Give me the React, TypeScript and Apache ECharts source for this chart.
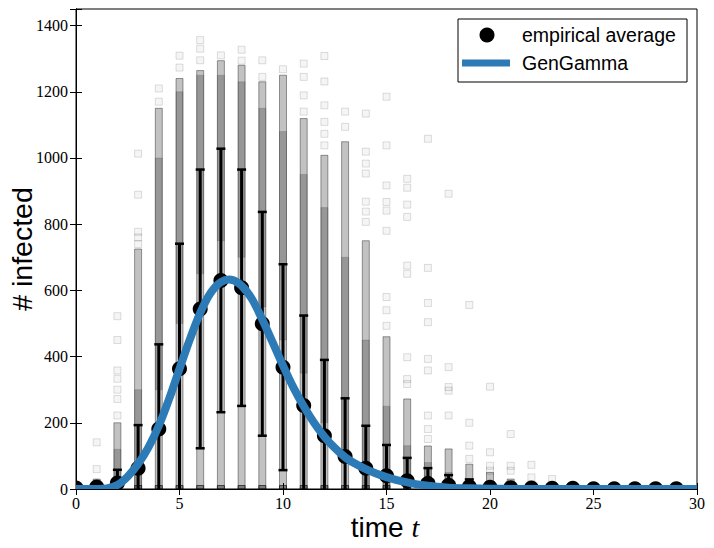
import React, { useEffect, useRef } from "react";
import * as echarts from "echarts";

const TIMES = [0, 1, 2, 3, 4, 5, 6, 7, 8, 9, 10, 11, 12, 13, 14, 15, 16, 17, 18, 19, 20, 21, 22, 23, 24, 25, 26, 27, 28, 29];
const MEAN_INFECTED = [3, 6, 18, 63, 181, 363, 544, 630, 608, 499, 368, 252, 161, 98, 63, 40, 25, 17, 11, 7, 5, 4, 3, 2, 2, 1, 1, 1, 1, 1];
const STD_INFECTED = [4, 8, 40, 130, 256, 378, 421, 398, 357, 338, 311, 272, 229, 176, 128, 93, 69, 46, 31, 22, 15, 10, 7, 5, 3, 2, 2, 1, 1, 1];

const FIT_T = [0, 0.5, 1, 1.5, 2, 2.5, 3, 3.5, 4, 4.5, 5, 5.5, 6, 6.5, 7, 7.5, 8, 8.5, 9, 9.5, 10, 10.5, 11, 11.5, 12, 12.5, 13, 13.5, 14, 14.5, 15, 15.5, 16, 16.5, 17, 17.5, 18, 19, 20, 21, 22, 23, 24, 25, 26, 27, 28, 29, 30];
const FIT_Y = [0, 0, 0, 2, 12, 38, 76, 126, 191, 272, 363, 452, 532, 592, 625, 632, 614, 574, 512, 443, 373, 307, 250, 200, 158, 124, 96, 76, 60, 47, 36, 27, 20, 14, 10, 7, 4, 2, 1, 0, 0, 0, 0, 0, 0, 0, 0, 0, 0];

// extent of the continuous band of simulated runs at each time
const RUN_BAND_TOP = [8, 30, 200, 725, 1150, 1240, 1264, 1294, 1280, 1230, 1250, 1119, 1008, 1049, 750, 460, 272, 130, 121, 75, 50, 30, 20, 10, 0, 0, 0, 0, 0, 0];
// denser part of the runs
const RUN_CORE_LOW = [0, 0, 0, 0, 300, 500, 650, 750, 700, 550, 450, 350, 200, 100, 0, 0, 0, 0, 0, 0, 0, 0, 0, 0, 0, 0, 0, 0, 0, 0];
const RUN_CORE_HIGH = [0, 10, 120, 300, 1000, 1200, 1250, 1250, 1230, 1150, 1080, 950, 850, 700, 450, 250, 131, 80, 50, 30, 0, 0, 0, 0, 0, 0, 0, 0, 0, 0];
// isolated simulated runs
const RUN_OUTLIERS: [number, number][] = [
  [1, 141], [1, 60],
  [2, 522], [2, 450], [2, 358], [2, 333], [2, 300], [2, 272], [2, 222],
  [3, 1013], [3, 889], [3, 777], [3, 760], [3, 740],
  [4, 1210], [4, 1170],
  [5, 1309], [5, 1273],
  [6, 1356], [6, 1330], [6, 1295],
  [7, 1310],
  [8, 1327], [8, 1294],
  [9, 1295], [9, 1245],
  [10, 1268],
  [11, 1285], [11, 1245], [11, 1189], [11, 1140],
  [12, 1308], [12, 1231], [12, 1159], [12, 1109], [12, 1073], [12, 1038],
  [13, 1140], [13, 1094],
  [14, 1134], [14, 1019], [14, 983], [14, 953], [14, 868], [14, 838], [14, 807],
  [15, 1185], [15, 1038], [15, 917], [15, 867], [15, 841], [15, 780], [15, 580], [15, 540], [15, 493],
  [16, 937], [16, 910], [16, 859], [16, 822], [16, 675], [16, 650], [16, 398], [16, 332], [16, 317],
  [17, 1058], [17, 668], [17, 562], [17, 504], [17, 393], [17, 358], [17, 222], [17, 181], [17, 151],
  [18, 892], [18, 368], [18, 308], [18, 297], [18, 222],
  [19, 556], [19, 200], [19, 131], [19, 91],
  [20, 309], [20, 111], [20, 70], [20, 55],
  [21, 166], [21, 70], [21, 55],
  [22, 73], [22, 35],
  [23, 30],
];

const BLUE = "#2c7bb6";
const SERIF = "Liberation Serif";
const SANS = "Liberation Sans";

export default function App() {
  const ref = useRef<HTMLDivElement>(null);

  useEffect(() => {
    if (!ref.current) return;
    const chart = echarts.init(ref.current, undefined, { renderer: "svg" });

    const bandData = TIMES.map((t, i) => [t, 0, RUN_BAND_TOP[i]]).filter((d) => d[2] > 0);
    const coreData = TIMES.map((t, i) => [t, RUN_CORE_LOW[i], RUN_CORE_HIGH[i]]).filter((d) => d[2] > d[1]);
    const zeroRuns = TIMES.map((t) => [t, 0]).filter((d, i) => RUN_BAND_TOP[i] > 0);
    const errData = TIMES.map((t, i) => [t, MEAN_INFECTED[i] - STD_INFECTED[i], MEAN_INFECTED[i] + STD_INFECTED[i]]);
    const meanData = TIMES.map((t, i) => [t, MEAN_INFECTED[i]]);

    const rectItem = (fill: string, stroke: string) => (params: any, api: any) => {
      const lo = api.coord([api.value(0), api.value(1)]);
      const hi = api.coord([api.value(0), api.value(2)]);
      return {
        type: "rect",
        shape: { x: lo[0] - 3.5, y: hi[1], width: 7, height: Math.max(1, lo[1] - hi[1]) },
        style: { fill, stroke, lineWidth: 1 },
      };
    };

    const axisCommon = {
      axisLine: { show: true, lineStyle: { color: "#000", width: 1 } },
      axisTick: { show: true, inside: true, length: 6, lineStyle: { color: "#000", width: 1 } },
      splitLine: { show: false },
    };

    chart.setOption({
      animation: false,
      backgroundColor: "#fff",
      grid: { left: 76, right: 17, top: 9, bottom: 59, show: true, borderColor: "#000", borderWidth: 1, backgroundColor: "transparent" },
      xAxis: [
        {
          type: "value", min: 0, max: 30, interval: 5, position: "bottom",
          ...axisCommon,
          axisLabel: { show: true, color: "#000", fontFamily: SERIF, fontSize: 16, margin: 6 },
        },
        {
          type: "value", min: 0, max: 30, interval: 5, position: "top",
          ...axisCommon,
          axisLabel: { show: false },
        },
      ],
      yAxis: [
        {
          type: "value", min: 0, max: 1450, interval: 200, position: "left",
          ...axisCommon,
          axisLabel: {
            show: true, color: "#000", fontFamily: SERIF, fontSize: 16, margin: 8,
            formatter: (v: number) => (v % 200 === 0 ? String(v) : ""),
          },
        },
        {
          type: "value", min: 0, max: 1450, interval: 200, position: "right",
          ...axisCommon,
          axisLabel: { show: false },
        },
      ],
      series: [
        {
          type: "custom", name: "runs band", xAxisIndex: 0, yAxisIndex: 0, clip: true, z: 1,
          renderItem: rectItem("rgba(0,0,0,0.24)", "rgba(0,0,0,0.38)"),
          data: bandData,
        },
        {
          type: "custom", name: "runs core", xAxisIndex: 0, yAxisIndex: 0, clip: true, z: 1,
          renderItem: rectItem("rgba(0,0,0,0.22)", "rgba(0,0,0,0.12)"),
          data: coreData,
        },
        {
          type: "scatter", name: "runs", xAxisIndex: 0, yAxisIndex: 0, z: 1,
          symbol: "rect", symbolSize: 7,
          itemStyle: { color: "rgba(0,0,0,0.04)", borderColor: "rgba(0,0,0,0.13)", borderWidth: 1, opacity: 1 },
          data: RUN_OUTLIERS,
        },
        {
          type: "custom", name: "zero runs", xAxisIndex: 0, yAxisIndex: 0, clip: true, z: 1,
          renderItem: (params: any, api: any) => {
            const p = api.coord([api.value(0), api.value(1)]);
            return {
              type: "rect",
              shape: { x: p[0] - 3.5, y: p[1] - 3.5, width: 7, height: 7 },
              style: { fill: "rgba(0,0,0,0.35)", stroke: "rgba(0,0,0,0.6)", lineWidth: 1 },
            };
          },
          data: zeroRuns,
        },
        {
          type: "custom", name: "error", xAxisIndex: 0, yAxisIndex: 0, clip: true, z: 2,
          renderItem: (params: any, api: any) => {
            const lo = api.coord([api.value(0), api.value(1)]);
            const hi = api.coord([api.value(0), api.value(2)]);
            const children: any[] = [
              { type: "line", shape: { x1: lo[0], y1: lo[1], x2: hi[0], y2: hi[1] }, style: { stroke: "#000", lineWidth: 3 } },
              { type: "line", shape: { x1: hi[0] - 4.5, y1: hi[1], x2: hi[0] + 4.5, y2: hi[1] }, style: { stroke: "#000", lineWidth: 2.5 } },
              { type: "line", shape: { x1: lo[0] - 4.5, y1: lo[1], x2: lo[0] + 4.5, y2: lo[1] }, style: { stroke: "#000", lineWidth: 2.5 } },
            ];
            return { type: "group", children };
          },
          data: errData,
        },
        {
          type: "custom", name: "empirical average", xAxisIndex: 0, yAxisIndex: 0, clip: true, z: 3,
          renderItem: (params: any, api: any) => {
            const p = api.coord([api.value(0), api.value(1)]);
            return { type: "circle", shape: { cx: p[0], cy: p[1], r: 7.5 }, style: { fill: "#000" } };
          },
          data: meanData,
        },
        {
          type: "custom", name: "GenGamma", xAxisIndex: 0, yAxisIndex: 0, clip: true, z: 4,
          renderItem: (params: any, api: any) => {
            const points = FIT_T.map((t, i) => api.coord([t, FIT_Y[i]]));
            return {
              type: "polyline",
              shape: { points, smooth: 0.3 },
              style: { stroke: BLUE, lineWidth: 8, fill: "none", lineJoin: "round" },
            };
          },
          data: [[FIT_T[0], FIT_Y[0]]],
        },
      ],
      graphic: [
        {
          type: "group", z: 100,
          children: [
            { type: "rect", shape: { x: 458, y: 19, width: 229, height: 63 }, style: { fill: "#fff", stroke: "#000", lineWidth: 1 } },
            { type: "circle", shape: { cx: 487, cy: 35, r: 7.5 }, style: { fill: "#000" } },
            { type: "text", x: 522, y: 35, style: { text: "empirical average", fill: "#000", font: `19.5px ${SANS}`, verticalAlign: "middle", align: "left" } },
            { type: "line", shape: { x1: 462, y1: 63, x2: 510, y2: 63 }, style: { stroke: BLUE, lineWidth: 7 } },
            { type: "text", x: 522, y: 63, style: { text: "GenGamma", fill: "#000", font: `19.5px ${SANS}`, verticalAlign: "middle", align: "left" } },
          ],
        },
        {
          type: "text", x: 22, y: 249, rotation: Math.PI / 2, z: 100,
          style: { text: "# infected", fill: "#000", font: `28.5px ${SANS}`, align: "center", verticalAlign: "middle" },
        },
        {
          type: "text", x: 385, y: 527, z: 100,
          style: {
            text: "{a|time }{b|t}", align: "center", verticalAlign: "middle",
            rich: {
              a: { fontFamily: SANS, fontSize: 28, lineHeight: 28, fill: "#000", color: "#000" },
              b: { fontFamily: SERIF, fontSize: 28, lineHeight: 28, fontStyle: "italic", fill: "#000", color: "#000" },
            },
          },
        },
      ],
    });

    return () => chart.dispose();
  }, []);

  return <div ref={ref} style={{ position: "fixed", left: 0, top: 0, width: 714, height: 548 }} />;
}
